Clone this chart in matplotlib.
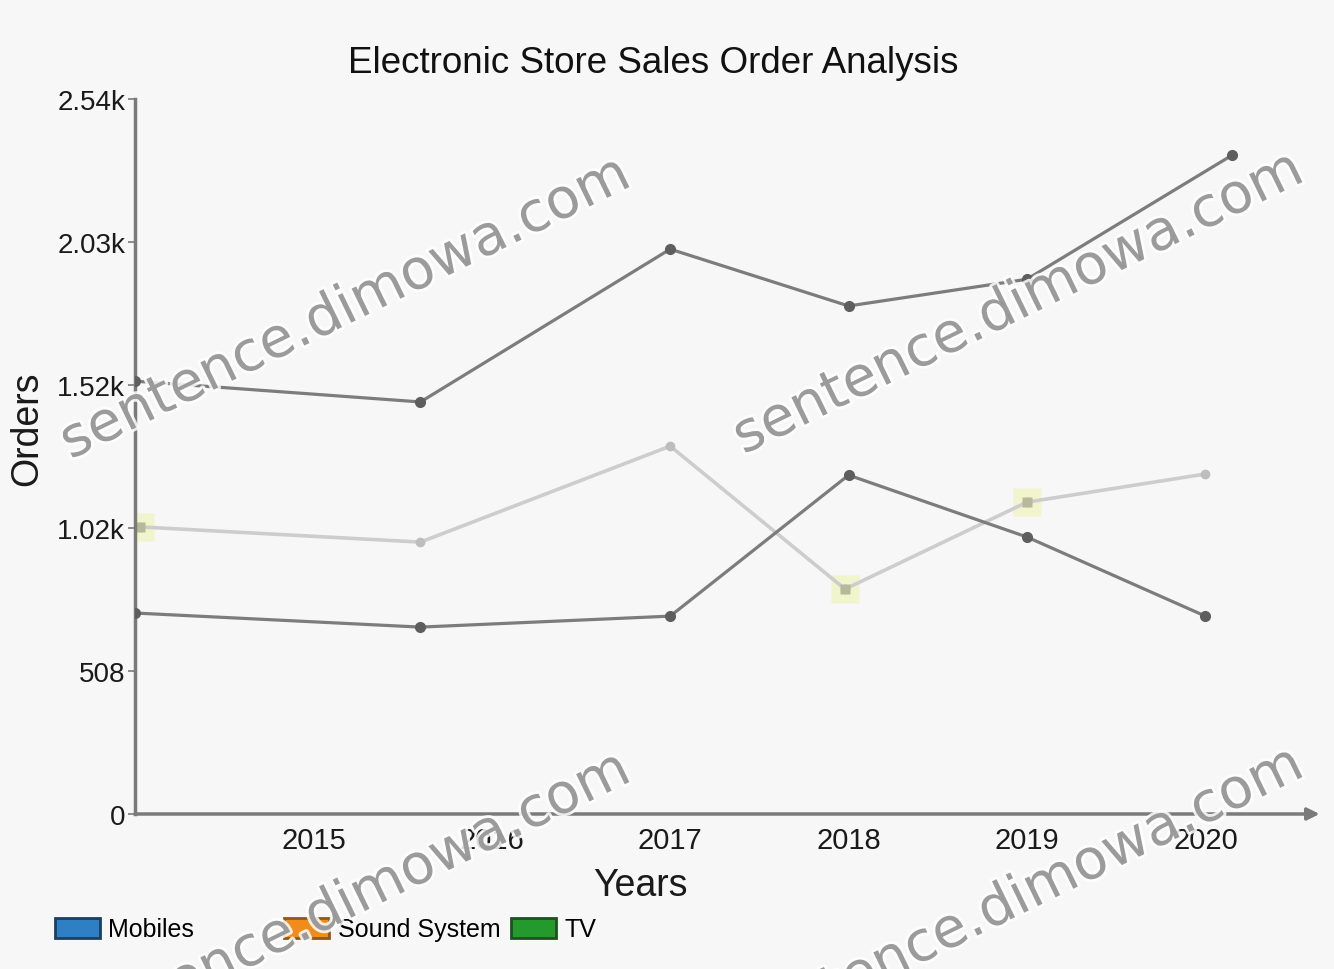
import matplotlib
matplotlib.use("Agg")
import matplotlib.pyplot as plt
from matplotlib.patches import Patch
import matplotlib.patheffects as pe

plt.rcParams['font.family'] = ['Liberation Sans', 'DejaVu Sans']

# ---- data ----
title = "Electronic Store Sales Order Analysis"
x_label = "Years"
y_label = "Orders"
year_ticks = [2015, 2016, 2017, 2018, 2019, 2020]
y_ticks = [0, 508, 1016, 1524, 2032, 2540]
y_tick_labels = ["0", "508", "1.02k", "1.52k", "2.03k", "2.54k"]

mobiles_x = [2014.0, 2015.6, 2017.0, 2018.0, 2019.0, 2020.15]
mobiles_y = [1538, 1464, 2007, 1805, 1900, 2341]

sound_x = [2014.03, 2015.6, 2017.0, 2017.98, 2019.0, 2020.0]
sound_y = [1020, 966, 1307, 799, 1108, 1208]

tv_x = [2014.0, 2015.6, 2017.0, 2018.0, 2019.0, 2020.0]
tv_y = [714, 664, 703, 1204, 984, 703]

legend_names = ["Mobiles", "Sound System", "TV"]
legend_colors = ["#2f7fc4", "#f08c1c", "#249a2c"]
legend_edges = ["#1d3f5e", "#8a5a1c", "#1f4f22"]

bg = "#f7f7f7"
fig = plt.figure(figsize=(13.34, 9.70), dpi=100, facecolor=bg)
ax = fig.add_axes([0.1012, 0.1598, 0.888, 0.737], facecolor=bg)

dark_line = "#7c7c7c"
dark_mark = "#5e5e5e"
light_line = "#cdcdcd"

ax.plot(mobiles_x, mobiles_y, color=dark_line, lw=2.3, marker='o', ms=7,
        mfc=dark_mark, mec=dark_mark, zorder=3)
ax.plot(tv_x, tv_y, color=dark_line, lw=2.3, marker='o', ms=7,
        mfc=dark_mark, mec=dark_mark, zorder=3)
ax.plot(sound_x, sound_y, color=light_line, lw=2.6, marker='o', ms=6,
        mfc="#bdbdbd", mec="#bdbdbd", zorder=2)
ax.plot(sound_x, sound_y, lw=0, marker='s', ms=20, mfc="#f1f5cc", mec="none",
        markevery=[0, 3, 4], zorder=1.5)
ax.plot(sound_x, sound_y, lw=0, marker='s', ms=7, mfc="#b7b99a", mec="none",
        markevery=[0, 3, 4], zorder=2.5)

ax.set_xlim(2014.0, 2020.64)
ax.set_ylim(0, 2540)
ax.set_xticks(year_ticks)
ax.set_xticklabels([str(y) for y in year_ticks])
ax.set_yticks(y_ticks)
ax.set_yticklabels(y_tick_labels)

for s in ["top", "right", "bottom"]:
    ax.spines[s].set_visible(False)
ax.spines["left"].set_color("#7a7a7a")
ax.spines["left"].set_linewidth(2.5)
ax.annotate("", xy=(1.0, 0), xytext=(0, 0), xycoords='axes fraction',
            textcoords='axes fraction',
            arrowprops=dict(arrowstyle='-|>', color="#7a7a7a", lw=2.5,
                            mutation_scale=18, shrinkA=0, shrinkB=0),
            annotation_clip=False, zorder=4)

ax.tick_params(axis='y', length=5, width=1.2, color="#7a7a7a", labelsize=20,
               labelcolor="#1a1a1a", pad=2)
ax.tick_params(axis='x', length=0, labelsize=21, labelcolor="#1a1a1a", pad=9)

ax.set_xlabel(x_label, fontsize=27, color="#1a1a1a")
ax.xaxis.set_label_coords(0.427, -0.074)
ax.set_ylabel(y_label, fontsize=27, color="#1a1a1a")
ax.yaxis.set_label_coords(-0.076, 0.54)

fig.text(0.49, 0.935, title, ha='center', va='center', fontsize=26.5, color="#111111")

# legend items placed individually
legend_x = [0.041, 0.213, 0.383]
for h_c, h_e, name, lx in zip(legend_colors, legend_edges, legend_names, legend_x):
    fig.legend([Patch(facecolor=h_c, edgecolor=h_e, lw=2)], [name],
               loc='center left', bbox_to_anchor=(lx, 0.041),
               frameon=False, fontsize=18, handlelength=1.8, handleheight=0.85,
               handletextpad=0.35, borderpad=0, borderaxespad=0)

# watermarks
wm_kw = dict(fontsize=40, color="#8c8c8c", rotation=26, ha='center', va='center',
             family='DejaVu Sans', alpha=0.85, zorder=10,
             path_effects=[pe.withStroke(linewidth=4, foreground="white")])
for (px, py) in [(345, 310), (1018, 305), (345, 905), (1018, 900)]:
    fig.text(px / 1334, 1 - py / 970, "sentence.dimowa.com", **wm_kw)

fig.savefig("out.png", dpi=100, facecolor=bg)
